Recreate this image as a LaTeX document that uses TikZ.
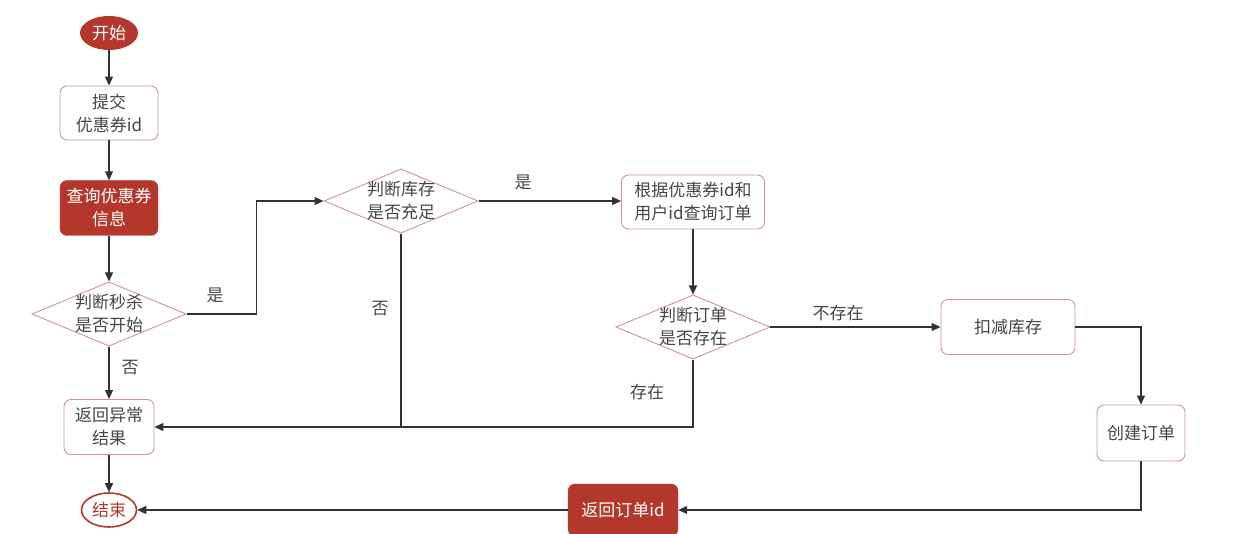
\documentclass[tikz,border=0pt]{standalone}
\usepackage{fontspec}
\setmainfont{Noto Sans CJK SC}
\usetikzlibrary{arrows.meta,positioning,shapes.geometric}
\definecolor{brickred}{RGB}{180,55,44}
\definecolor{palerose}{RGB}{200,150,155}
\definecolor{inkgray}{RGB}{50,50,50}
\definecolor{textgray}{RGB}{70,70,70}

\begin{document}
\begin{tikzpicture}[x=1pt,y=-1pt,
  every node/.style={font=\fontsize{17}{23}\selectfont,align=center,text=textgray},
  procbox/.style={draw=palerose,fill=white,rounded corners=7pt,line width=0.9pt,inner sep=0pt},
  redbox/.style={draw=brickred,fill=brickred,rounded corners=7pt,text=white,inner sep=0pt},
  decision/.style={diamond,draw=palerose,fill=white,line width=0.9pt,aspect=2.4,inner sep=-1pt},
  flow/.style={draw=inkgray,line width=1.1pt,-{Triangle[length=9pt,width=8pt]}},
  plain/.style={draw=inkgray,line width=1.1pt}]
  \useasboundingbox (0,0) rectangle (1257,534);

  % left column
  \node[ellipse,fill=brickred,text=white,minimum width=58pt,minimum height=34pt,inner sep=0pt] (start) at (109,33) {开始};
  \node[procbox,minimum width=98pt,minimum height=54pt] (submit) at (109,113) {提交\\优惠券id};
  \node[redbox,minimum width=98pt,minimum height=55pt] (query) at (109,208) {查询优惠券\\信息};
  \node[decision] (chkbegin) at (109,314) {判断秒杀\\是否开始};
  \node[procbox,minimum width=90pt,minimum height=55pt] (failret) at (109,427) {返回异常\\结果};
  \node[ellipse,draw=brickred,line width=1.6pt,fill=white,text=brickred,minimum width=55pt,minimum height=34pt,inner sep=0pt] (finish) at (109,510) {结束};

  % middle and right
  \node[decision] (chkstock) at (401,201) {判断库存\\是否充足};
  \node[procbox,minimum width=143pt,minimum height=54pt] (orderq) at (693,202) {根据优惠券id和\\用户id查询订单};
  \node[decision] (chkorder) at (693,327) {判断订单\\是否存在};
  \node[procbox,minimum width=134pt,minimum height=55pt] (deduct) at (1008,327) {扣减库存};
  \node[procbox,minimum width=88pt,minimum height=56pt] (create) at (1141,433) {创建订单};
  \node[redbox,minimum width=110pt,minimum height=52pt] (orderret) at (623,510) {返回订单id};

  % labels
  \node (lblyesa) at (215,295) {是};
  \node (lblnoa) at (130,368) {否};
  \node (lblyesb) at (523,182) {是};
  \node (lblnob) at (380,309) {否};
  \node (lblnone) at (838,313) {不存在};
  \node (lblhas) at (647,392) {存在};

  % connectors
  \draw[flow] (start) -- (submit);
  \draw[flow] (submit) -- (query);
  \draw[flow] (query) -- (chkbegin);
  \draw[flow] (chkbegin.east) -- ++(70,0) |- (chkstock.west);
  \draw[flow] (chkbegin) -- (failret);
  \draw[flow] (chkstock) -- (chkstock -| orderq.west);
  \draw[plain] (chkstock.south) -- (chkstock.south |- failret.east);
  \draw[flow] (orderq) -- (chkorder);
  \draw[flow] (chkorder.south) |- (failret.east);
  \draw[flow] (chkorder) -- (deduct);
  \draw[flow] (deduct.east) -| (create.north);
  \draw[flow] (create.south) |- (orderret.east);
  \draw[flow] (orderret) -- (finish);
  \draw[flow] (failret) -- (finish);
\end{tikzpicture}
\end{document}
